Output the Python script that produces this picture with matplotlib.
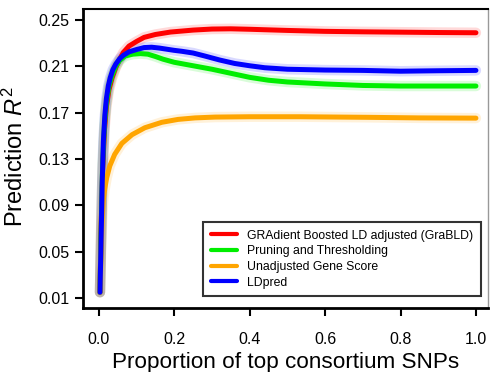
import matplotlib
matplotlib.use("Agg")
import matplotlib.pyplot as plt

plt.rcParams['font.family'] = ['Liberation Sans', 'DejaVu Sans']
plt.rcParams['mathtext.fontset'] = 'custom'
plt.rcParams['mathtext.rm'] = 'Liberation Sans'
plt.rcParams['mathtext.it'] = 'Liberation Sans:italic'

labels = ["GRAdient Boosted LD adjusted (GraBLD)", "Pruning and Thresholding",
          "Unadjusted Gene Score", "LDpred"]
colors = ["#FF0000", "#00EE00", "#FFA500", "#0000FF"]

red_x = [0.003, 0.006, 0.01, 0.015, 0.02, 0.027, 0.035, 0.045, 0.055, 0.065, 0.08, 0.1, 0.12, 0.15, 0.19,
         0.25, 0.3, 0.35, 0.4, 0.5, 0.6, 0.7, 0.8, 0.9, 1.0]
red_y = [0.015, 0.07, 0.12, 0.155, 0.175, 0.19, 0.200, 0.209, 0.216, 0.222, 0.2275, 0.2315, 0.235, 0.2375, 0.2396,
         0.2413, 0.2422, 0.2424, 0.242, 0.241, 0.2402, 0.2398, 0.2395, 0.2392, 0.239]

green_x = [0.003, 0.006, 0.01, 0.015, 0.02, 0.027, 0.035, 0.045, 0.055, 0.07, 0.09, 0.11, 0.13, 0.15, 0.17,
           0.2, 0.25, 0.3, 0.35, 0.4, 0.45, 0.5, 0.6, 0.7, 0.8, 0.9, 1.0]
green_y = [0.015, 0.065, 0.125, 0.16, 0.178, 0.193, 0.202, 0.21, 0.215, 0.219, 0.2205, 0.221, 0.2205, 0.2185, 0.2162,
           0.2135, 0.2105, 0.2075, 0.204, 0.2005, 0.198, 0.1965, 0.1948, 0.1935, 0.193, 0.193, 0.193]

orange_x = [0.003, 0.006, 0.009, 0.012, 0.016, 0.021, 0.029, 0.042, 0.061, 0.088, 0.122, 0.167, 0.21, 0.255,
            0.308, 0.4, 0.533, 0.711, 0.85, 1.0]
orange_y = [0.015, 0.05, 0.08, 0.095, 0.105, 0.114, 0.124, 0.134, 0.1435, 0.151, 0.157, 0.1617, 0.1642, 0.1655,
            0.1662, 0.1665, 0.1665, 0.166, 0.1655, 0.1653]

blue_x = [0.003, 0.006, 0.009, 0.012, 0.016, 0.02, 0.025, 0.03, 0.037, 0.045, 0.055, 0.065, 0.08, 0.1, 0.12,
          0.14, 0.16, 0.18, 0.2, 0.22, 0.25, 0.28, 0.32, 0.36, 0.4, 0.44, 0.5, 0.6, 0.7, 0.8, 0.9, 1.0]
blue_y = [0.015, 0.06, 0.11, 0.145, 0.168, 0.182, 0.193, 0.2, 0.207, 0.212, 0.2165, 0.2195, 0.2225, 0.2245, 0.2262,
          0.2265, 0.2258, 0.2248, 0.2238, 0.223, 0.2215, 0.219, 0.2155, 0.2125, 0.2105, 0.2088, 0.2075, 0.2068,
          0.2065, 0.2058, 0.2062, 0.2065]

yticks = [0.01, 0.05, 0.09, 0.13, 0.17, 0.21, 0.25]
xticks = [0.0, 0.2, 0.4, 0.6, 0.8, 1.0]

series = [(red_x, red_y), (green_x, green_y), (orange_x, orange_y), (blue_x, blue_y)]

fig = plt.figure(figsize=(4.9, 3.72), dpi=100)
ax = fig.add_axes([83/490, 1 - 308/372, 405/490, 299/372])

for (xs, ys), c in zip(series, colors):
    ax.plot(xs, ys, color=c, lw=7.5, alpha=0.15, solid_capstyle='round',
            solid_joinstyle='round', zorder=2)
for (xs, ys), c, lab in zip(series, colors, labels):
    ax.plot(xs, ys, color=c, lw=3.6, solid_capstyle='round', solid_joinstyle='round',
            label=lab, zorder=3)

ax.set_xlim(-0.042, 1.032)
ax.set_ylim(0.0014, 0.2595)
ax.set_xticks(xticks)
ax.set_xticklabels([f"{v:.1f}" for v in xticks])
ax.set_yticks(yticks)
ax.set_yticklabels([f"{v:.2f}" for v in yticks])
ax.tick_params(axis='both', direction='out', length=6, width=1.5, labelsize=11.5, color='black')
ax.tick_params(axis='x', pad=11)
ax.tick_params(axis='y', pad=4)

for s in ['left', 'bottom']:
    ax.spines[s].set_linewidth(2)
ax.spines['top'].set_linewidth(1.5)
ax.spines['right'].set_linewidth(1.0)
ax.spines['right'].set_color('#999999')

ax.set_xlabel("Proportion of top consortium SNPs", fontsize=16.2, labelpad=4)
ax.set_ylabel("Prediction $\\mathit{R}^2$", fontsize=17, labelpad=3)
ax.yaxis.set_label_coords(-0.135, 0.505)

leg = ax.legend(loc='lower right', bbox_to_anchor=(0.997, 0.02), fontsize=8.8,
                frameon=True, fancybox=False, edgecolor='black', handlelength=2.2,
                handletextpad=0.8, labelspacing=0.3, borderpad=0.6)
leg.get_frame().set_linewidth(1.5)
for h in leg.get_lines():
    h.set_linewidth(3)

fig.savefig("out.png", dpi=100)
